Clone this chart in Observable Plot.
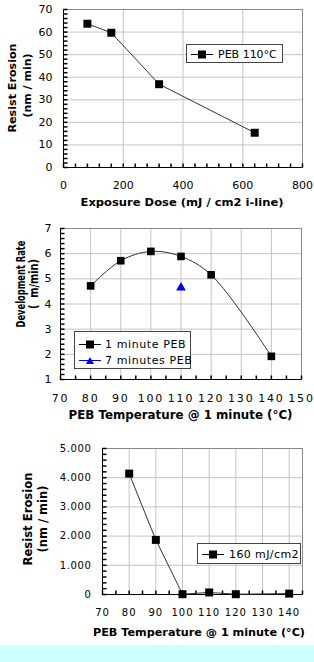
<!DOCTYPE html>
<html><head><meta charset="utf-8">
<script src="https://cdn.jsdelivr.net/npm/d3@7"></script>
<script src="https://cdn.jsdelivr.net/npm/@observablehq/plot@0.6"></script>
<style>
body{margin:0;background:#fff;font-family:"DejaVu Sans",sans-serif;}
#wrap{position:relative;width:314px;height:662px;overflow:hidden;background:#fff;}
.panel{position:absolute;left:0;width:314px;height:215px;}
.panel svg{display:block;overflow:visible;}
.legend{position:absolute;background:#fff;border:1px solid #444;box-sizing:border-box;font-family:"DejaVu Sans",sans-serif;color:#000;}
.legend .row{display:flex;align-items:center;white-space:nowrap;}
.legend svg{display:block;flex:none;}
#band{position:absolute;left:0;top:645px;width:314px;height:17px;background:#ccffff;}
</style></head>
<body><div id="wrap"></div>
<script>
// Chart 1: Resist erosion vs exposure dose (PEB 110°C)
const doses = [80, 160, 320, 640];
const erosionByDose = [63.7, 59.7, 36.9, 15.4];
const doseTicks = [0, 200, 400, 600, 800];
const erosionTicks1 = [0, 10, 20, 30, 40, 50, 60, 70];

// Chart 2: Development rate vs PEB temperature
const pebTemps = [80, 90, 100, 110, 120, 140];
const devRate1min = [4.72, 5.72, 6.09, 5.89, 5.16, 1.92];
const pebTemps7min = [110];
const devRate7min = [4.65];
const tempTicks2 = [70, 80, 90, 100, 110, 120, 130, 140, 150];
const rateTicks = [1, 2, 3, 4, 5, 6, 7];

// Chart 3: Resist erosion vs PEB temperature (160 mJ/cm2)
const erosionTemps = [80, 90, 100, 110, 120, 140];
const erosionByTemp = [4140, 1870, 10, 70, 10, 30];
const tempTicks3 = [70, 80, 90, 100, 110, 120, 130, 140];
const erosionTicks3 = [0, 1000, 2000, 3000, 4000, 5000];

const euro = d3.formatLocale({decimal: ",", thousands: ".", grouping: [3], currency: ["", ""]}).format(",");

const tickUp = {draw(ctx) { ctx.moveTo(0, 0); ctx.lineTo(0, -4); }};
const tickRight = {draw(ctx) { ctx.moveTo(0, 0); ctx.lineTo(4, 0); }};
const range = (a, b, s) => d3.range(a, b + s / 2, s);

function panel(o) {
  // axis titles: start-anchored and stretched to the length they span in the reference
  const labelMarks = [
    Plot.text([o.xLabel.text], {frameAnchor: "bottom", lineAnchor: "middle", textAnchor: "start", dx: (o.xLabel.dx || 0) - o.xLabel.len / 2, dy: o.xLabel.dy, fontWeight: "bold", fontSize: o.xLabel.font, fill: "#000"}),
    ...o.yLines.map(l => Plot.text([l.text], {frameAnchor: "left", rotate: -90, textAnchor: "start", lineAnchor: "middle", dx: l.dx, dy: l.dy + l.len / 2, fontWeight: "bold", fontSize: l.font, fill: "#000"}))
  ];
  const marks = [
    Plot.ruleX(o.xTicks, {stroke: "#c4c4c4", strokeOpacity: 1}),
    Plot.ruleY(o.yTicks, {stroke: "#c4c4c4", strokeOpacity: 1}),
    Plot.frame({stroke: "#8a8a8a"}),
    Plot.ruleY([o.yDomain[0]], {stroke: "#000"}),
    Plot.ruleX([o.xDomain[0]], {stroke: "#000"}),
    Plot.dot(o.xMinor, {x: d => d, y: () => o.yDomain[0], symbol: tickUp, stroke: "#000", fill: "none"}),
    Plot.dot(o.yMinor, {x: () => o.xDomain[0], y: d => d, symbol: tickRight, stroke: "#000", fill: "none"}),
    ...o.marks,
    ...labelMarks
  ];
  const svg = Plot.plot({
    width: 314, height: 215,
    marginTop: o.mt, marginBottom: o.mb, marginLeft: o.ml, marginRight: o.mr,
    style: {fontFamily: "DejaVu Sans", fontSize: o.tickFont + "px", color: "#000", background: "transparent", overflow: "visible"},
    x: {domain: o.xDomain, ticks: o.xTicks, tickSize: 0, tickPadding: o.xPad, label: null},
    y: {domain: o.yDomain, ticks: o.yTicks, tickSize: 0, tickPadding: o.yPad, label: null, tickFormat: o.yFormat || (d => String(d))},
    marks
  });
  const s = d3.select(svg);
  s.selectAll('[aria-label="x-axis tick label"] text').style("letter-spacing", o.xls + "px");
  s.selectAll('[aria-label="y-axis tick label"] text').style("letter-spacing", o.yls + "px");
  const groups = s.selectAll('g[aria-label="text"]').nodes();
  const lens = [o.xLabel.len, ...o.yLines.map(l => l.len)];
  const tail = groups.slice(groups.length - lens.length);
  tail.forEach((g, i) => d3.select(g).selectAll("text").attr("textLength", lens[i]).attr("lengthAdjust", "spacingAndGlyphs"));
  const div = document.createElement("div");
  div.className = "panel";
  div.style.top = o.top + "px";
  div.appendChild(svg);
  document.getElementById("wrap").appendChild(div);
}

function legend(o) {
  const box = document.createElement("div");
  box.className = "legend";
  Object.assign(box.style, {left: o.left + "px", top: o.top + "px", width: o.width + "px", height: o.height + "px", fontSize: o.font + "px", letterSpacing: (o.ls || 0) + "px", padding: o.pad});
  for (const e of o.entries) {
    const row = document.createElement("div");
    row.className = "row";
    row.style.height = o.rowH + "px";
    const sym = e.tri
      ? `<polygon points="${o.sw/2-4},9 ${o.sw/2+4},9 ${o.sw/2},2" fill="${e.color}"/>`
      : `<rect x="${o.sw/2-4}" y="1.5" width="8" height="8" fill="${e.color}"/>`;
    row.innerHTML = `<svg width="${o.sw}" height="11"><line x1="0" y1="5.5" x2="${o.sw}" y2="5.5" stroke="${e.color}" stroke-width="1"/>${sym}</svg><span style="margin-left:${o.gap}px">${e.label}</span>`;
    box.appendChild(row);
  }
  document.getElementById("wrap").appendChild(box);
}

// Panel 1
panel({
  top: 0, mt: 9, mb: 48, ml: 63, mr: 12,
  xDomain: [0, 800], xTicks: doseTicks, xMinor: range(0, 800, 40),
  yDomain: [0, 70], yTicks: erosionTicks1, yMinor: range(0, 70, 2),
  tickFont: 11, xls: 0, yls: 0, xPad: 14, yPad: 11,
  xLabel: {text: "Exposure Dose (mJ / cm2 i-line)", dx: -1, dy: 35, font: 10.5, len: 203},
  yLines: [
    {text: "Resist Erosion", dx: -51, dy: -0.5, font: 11, len: 89},
    {text: "(nm / min)", dx: -36, dy: -3, font: 11, len: 64}
  ],
  marks: [
    Plot.line(doses, {x: d => d, y: (d, i) => erosionByDose[i], stroke: "#333", strokeWidth: 1}),
    Plot.dot(doses, {x: d => d, y: (d, i) => erosionByDose[i], symbol: "square", r: 4.5, fill: "#000"})
  ]
});
legend({left: 186, top: 44, width: 97, height: 19, font: 11, pad: "3px 0 0 4px", rowH: 12, sw: 22, gap: 5,
  entries: [{label: "PEB 110°C", color: "#000"}]});

// Panel 2
panel({
  top: 215, mt: 13, mb: 51, ml: 60, mr: 13,
  xDomain: [70, 150], xTicks: tempTicks2, xMinor: range(70, 150, 5),
  yDomain: [1, 7], yTicks: rateTicks, yMinor: range(1, 7, 0.2),
  tickFont: 11, xls: 1.8, yls: 0, xPad: 15, yPad: 9,
  xLabel: {text: "PEB Temperature @ 1 minute (°C)", dx: -0.5, dy: 36, font: 11.5, len: 224},
  yLines: [
    {text: "Development Rate", dx: -40, dy: -20, font: 12.5, len: 87},
    {text: "(  m/min)", dx: -27, dy: -20, font: 12.5, len: 50}
  ],
  marks: [
    Plot.line(pebTemps, {x: d => d, y: (d, i) => devRate1min[i], curve: "catmull-rom", stroke: "#333", strokeWidth: 1}),
    Plot.dot(pebTemps, {x: d => d, y: (d, i) => devRate1min[i], symbol: "square", r: 4.3, fill: "#000"}),
    Plot.dot(pebTemps7min, {x: d => d, y: (d, i) => devRate7min[i], symbol: "triangle", r: 3.6, fill: "#0000ee"})
  ]
});
legend({left: 74, top: 331, width: 117, height: 38, font: 11, ls: 0.6, pad: "4px 0 0 4px", rowH: 16, sw: 22, gap: 4,
  entries: [{label: "1 minute PEB", color: "#000"}, {label: "7 minutes PEB", color: "#0000ee", tri: true}]});

// Panel 3
panel({
  top: 430, mt: 18, mb: 51, ml: 102, mr: 12,
  xDomain: [70, 145], xTicks: tempTicks3, xMinor: range(70, 145, 5),
  yDomain: [0, 5000], yTicks: erosionTicks3, yMinor: range(0, 5000, 200), yFormat: euro,
  tickFont: 10, xls: 1, yls: 0.6, xPad: 14, yPad: 11,
  xLabel: {text: "PEB Temperature @ 1 minute (°C)", dx: -3.5, dy: 38, font: 10, len: 212},
  yLines: [
    {text: "Resist Erosion", dx: -74, dy: -2.5, font: 11.5, len: 93},
    {text: "(nm / min)", dx: -59, dy: -2.5, font: 11.5, len: 67}
  ],
  marks: [
    Plot.line(erosionTemps, {x: d => d, y: (d, i) => erosionByTemp[i], stroke: "#333", strokeWidth: 1}),
    Plot.dot(erosionTemps, {x: d => d, y: (d, i) => erosionByTemp[i], symbol: "square", r: 4.5, fill: "#000"})
  ]
});
legend({left: 197, top: 543, width: 104, height: 21, font: 11, ls: 0.4, pad: "4px 0 0 4px", rowH: 12, sw: 22, gap: 5,
  entries: [{label: "160 mJ/cm2", color: "#000"}]});

const band = document.createElement("div");
band.id = "band";
document.getElementById("wrap").appendChild(band);
</script>
</body></html>
